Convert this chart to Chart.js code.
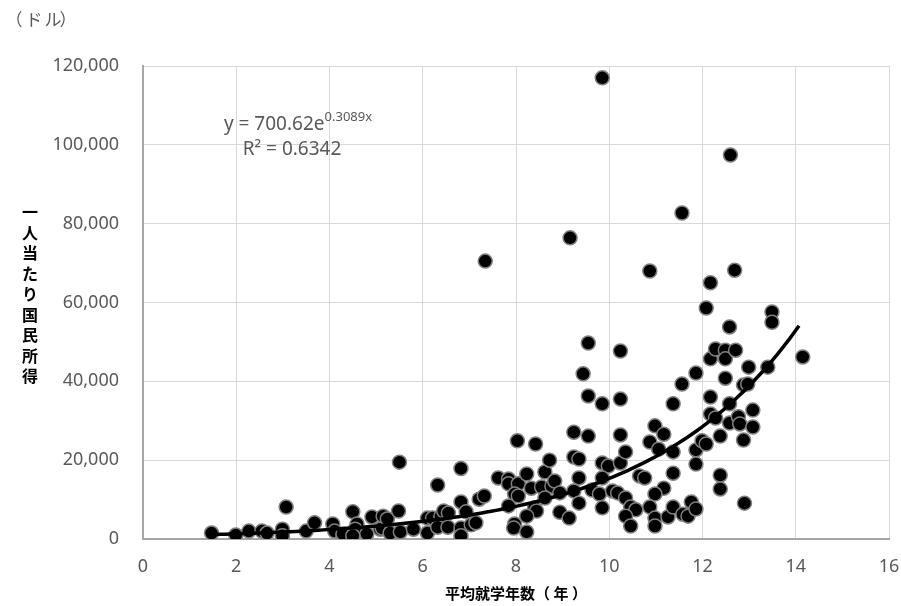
<!DOCTYPE html>
<html lang="ja">
<head>
<meta charset="UTF-8">
<title>平均就学年数と一人当たり国民所得</title>
<script src="https://cdn.jsdelivr.net/npm/chart.js@4.4.1/dist/chart.umd.min.js"></script>
<style>
    html, body { margin: 0; padding: 0; background: #ffffff; }
    .chart-box { position: relative; width: 901px; height: 606px; }
</style>
</head>
<body>
<div class="chart-box">
    <canvas id="myChart"></canvas>
</div>
<script>
// 平均就学年数（年）
const schoolYears = [
    1.47, 1.99, 2.27, 2.55, 2.66, 2.99, 2.99, 3.07, 3.5, 3.68,
    4.07, 4.11, 4.29, 4.29, 4.5, 4.59, 4.55, 4.5, 4.8, 4.91,
    5.09, 5.13, 5.15, 5.24, 5.3, 5.48, 5.5, 5.52, 5.8, 6.1,
    6.21, 6.1, 6.32, 6.39, 6.45, 6.32, 6.54, 6.55, 6.82, 6.82,
    6.93, 6.82, 6.82, 7.04, 7.14, 7.21, 7.32, 7.34, 7.62, 7.84,
    7.84, 8.05, 7.97, 7.84, 7.97, 7.95, 8.05, 8.03, 8.42, 8.23,
    8.62, 8.72, 8.33, 8.55, 8.77, 8.83, 8.62, 8.94, 8.4, 8.44,
    8.23, 8.23, 8.94, 9.14, 9.16, 9.24, 9.24, 9.35, 9.35, 9.24,
    9.35, 9.44, 9.55, 9.55, 9.55, 9.63, 9.79, 9.85, 9.85, 9.85,
    9.98, 9.85, 9.85, 10.07, 10.18, 10.24, 10.24, 10.24, 10.24, 10.35,
    10.35, 10.46, 10.57, 10.35, 10.46, 10.65, 10.76, 10.87, 10.98, 11.17,
    10.87, 11.06, 11.37, 11.17, 10.98, 10.87, 10.98, 10.98, 11.26, 11.37,
    11.37, 11.37, 11.56, 11.56, 11.58, 11.69, 11.76, 11.86, 11.86, 11.86,
    11.86, 11.99, 12.08, 12.08, 12.17, 12.17, 12.17, 12.17, 12.28, 12.28,
    12.38, 12.38, 12.38, 12.49, 12.49, 12.49, 12.58, 12.58, 12.58, 12.6,
    12.69, 12.71, 12.77, 12.8, 12.88, 12.97, 12.88, 12.9, 12.99, 13.08,
    13.08, 13.4, 13.49, 13.49, 14.15
];

// 一人当たり国民所得（ドル）
const incomes = [
    1500, 1000, 2000, 2000, 1500, 2500, 800, 8100, 2000, 4100,
    3800, 2000, 800, 1300, 6900, 3800, 2500, 800, 1300, 5600,
    2500, 2800, 5800, 5100, 1500, 7100, 19500, 1800, 2500, 5300,
    5300, 1500, 13700, 5800, 7100, 3000, 3000, 6600, 17900, 9400,
    6900, 2800, 800, 3600, 4100, 10100, 10900, 70500, 15500, 15200,
    14000, 14000, 11400, 8400, 3800, 2800, 10900, 24900, 24100, 16500,
    17000, 20000, 12900, 13200, 13400, 14700, 10400, 11700, 7900, 7100,
    5800, 1800, 6800, 5300, 76400, 27100, 20800, 20300, 15500, 12200,
    9100, 41900, 49700, 36300, 26100, 12400, 11400, 117000, 34300, 19300,
    18500, 15500, 7900, 12200, 11700, 47700, 35500, 26400, 19300, 22100,
    10400, 8100, 7400, 5800, 3300, 16000, 15500, 68000, 28700, 26600,
    24600, 22800, 22100, 12900, 11400, 8100, 5300, 3300, 5600, 8100,
    34300, 16700, 82700, 39300, 6300, 5800, 9400, 7600, 42100, 22600,
    19000, 24900, 24100, 58600, 65000, 45700, 36000, 31700, 30700, 48200,
    26100, 16200, 12700, 47900, 45700, 40800, 53800, 34300, 29400, 97400,
    68200, 47900, 31000, 29200, 39100, 39300, 25100, 9100, 43600, 32700,
    28400, 43600, 57600, 55000, 46200
];

// 指数近似曲線 y = 700.62e^(0.3089x)
const trendA = 700.62;
const trendB = 0.3089;
const trendRange = [1.47, 14.1];

const xTicks = [0, 2, 4, 6, 8, 10, 12, 14, 16];
const yTicks = [0, 20000, 40000, 60000, 80000, 100000, 120000];

const points = schoolYears.map(function (x, i) {
    return { x: x, y: incomes[i] };
});

const trendPoints = [];
for (let x = trendRange[0]; x <= trendRange[1] + 0.001; x += 0.1) {
    trendPoints.push({ x: x, y: trendA * Math.exp(trendB * x) });
}

const cjkFont = '"Noto Sans CJK JP", "Noto Sans", sans-serif';
const numFont = '"Noto Sans", "Noto Sans CJK JP", sans-serif';

// 縦書きのY軸タイトル、単位、近似式を描く
const extraText = {
    id: 'extraText',
    afterDraw(chart) {
        const c = chart.ctx;
        c.save();
        c.fillStyle = '#000000';
        c.font = 'bold 16px ' + cjkFont;
        c.textAlign = 'center';
        c.textBaseline = 'middle';
        const title = '一人当たり国民所得';
        const startY = 212;
        for (let i = 0; i < title.length; i++) {
            c.fillText(title[i], 30, startY + i * 20.5);
        }

        // 単位
        c.fillStyle = '#595959';
        c.font = '17px ' + cjkFont;
        c.textAlign = 'center';
        const unit = ['（', 'ド', 'ル', '）'];
        const unitX = [14, 34, 53, 68];
        for (let i = 0; i < unit.length; i++) {
            c.fillText(unit[i], unitX[i], 20);
        }

        // 近似式
        c.textAlign = 'left';
        const main = 'y = 700.62e';
        const sup = '0.3089x';
        c.font = '19px ' + numFont;
        const w1 = c.measureText(main).width;
        c.font = '13px ' + numFont;
        const w2 = c.measureText(sup).width;
        const left = 298 - (w1 + w2) / 2;
        c.font = '19px ' + numFont;
        c.fillText(main, left, 125);
        c.font = '13px ' + numFont;
        c.fillText(sup, left + w1, 117);
        c.font = '19px ' + numFont;
        c.textAlign = 'center';
        c.fillText('R² = 0.6342', 292, 150);
        c.restore();
    }
};

const ctx = document.getElementById('myChart').getContext('2d');
const myChart = new Chart(ctx, {
    type: 'scatter',
    data: {
        datasets: [{
            label: '近似曲線',
            type: 'line',
            data: trendPoints,
            borderColor: '#000000',
            borderWidth: 3.5,
            pointRadius: 0,
            showLine: true,
            fill: false,
            tension: 0,
            order: 0
        }, {
            label: '国',
            data: points,
            backgroundColor: '#000000',
            borderColor: '#808080',
            borderWidth: 1.5,
            pointRadius: 7,
            pointHoverRadius: 7,
            order: 1
        }]
    },
    options: {
        responsive: true,
        maintainAspectRatio: false,
        animation: false,
        layout: {
            padding: { top: 66, right: 12, bottom: 0, left: 0 }
        },
        plugins: {
            legend: { display: false },
            tooltip: { enabled: false }
        },
        scales: {
            x: {
                type: 'linear',
                min: 0,
                max: 16,
                afterBuildTicks: function (scale) {
                    scale.ticks = xTicks.map(function (v) { return { value: v }; });
                },
                afterFit: function (scale) {
                    scale.height = 67;
                    scale.paddingLeft = 0;
                    scale.paddingRight = 0;
                },
                ticks: {
                    color: '#595959',
                    font: { size: 18, family: numFont },
                    padding: 17
                },
                grid: { color: '#d9d9d9', lineWidth: 1, drawTicks: false },
                border: { color: '#a6a6a6', width: 2 },
                title: {
                    display: true,
                    text: '平均就学年数（ 年 ）',
                    color: '#000000',
                    font: { size: 15, weight: 'bold', family: cjkFont },
                    padding: { top: 4, bottom: 4 }
                }
            },
            y: {
                min: 0,
                max: 120000,
                afterBuildTicks: function (scale) {
                    scale.ticks = yTicks.map(function (v) { return { value: v }; });
                },
                afterFit: function (scale) {
                    scale.width = 143;
                    scale.paddingTop = 0;
                    scale.paddingBottom = 0;
                },
                ticks: {
                    color: '#595959',
                    font: { size: 18, family: numFont },
                    padding: 24,
                    callback: function (v) { return v.toLocaleString('en-US'); }
                },
                grid: { color: '#d9d9d9', lineWidth: 1, drawTicks: false },
                border: { color: '#a6a6a6', width: 2 }
            }
        }
    },
    plugins: [extraText]
});
</script>
</body>
</html>
